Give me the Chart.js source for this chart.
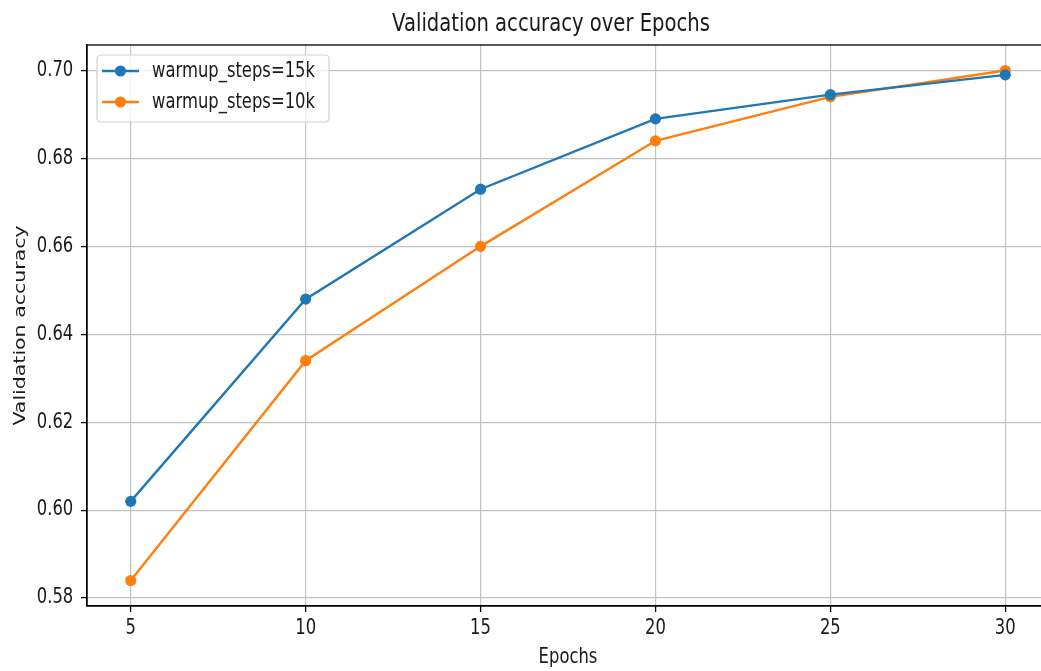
<!DOCTYPE html>
<html>
<head>
<meta charset="utf-8">
<script src="https://cdn.jsdelivr.net/npm/chart.js@4.4.1/dist/chart.umd.min.js"></script>
<style>
    html, body { margin: 0; padding: 0; background: #fff; overflow: hidden; }
    #wrap { position: relative; width: 1102px; height: 671px; }
</style>
</head>
<body>
<div id="wrap"><canvas id="chart"></canvas></div>
<script>
const epochs = [5, 10, 15, 20, 25, 30];
const acc15k = [0.602, 0.648, 0.673, 0.689, 0.6945, 0.699];
const acc10k = [0.584, 0.634, 0.660, 0.684, 0.694, 0.700];
const yTicks = [0.58, 0.60, 0.62, 0.64, 0.66, 0.68, 0.70];

const BLUE = "#1f77b4";
const ORANGE = "#ff7f0e";
const FONT = "'DejaVu Sans', sans-serif";
const TEXT = "#1a1a1a";
const SX = 0.8; // the figure is squeezed horizontally, text included

function points(ys) {
    return epochs.map((x, i) => ({ x, y: ys[i] }));
}

// squeeze all text along the screen x direction
const narrowText = {
    id: "narrowText",
    beforeInit(chart) {
        const ctx = chart.ctx;
        const fill = ctx.fillText.bind(ctx);
        ctx.fillText = (text, x, y, maxWidth) => {
            const rotated = Math.abs(ctx.getTransform().b) > 1e-6;
            ctx.save();
            ctx.translate(x, y);
            if (rotated) ctx.scale(1, SX);
            else ctx.scale(SX, 1);
            if (maxWidth === undefined) fill(text, 0, 0);
            else fill(text, 0, 0, rotated ? maxWidth : maxWidth / SX);
            ctx.restore();
        };
    },
};

// matplotlib-style box around the axes
const frame = {
    id: "frame",
    afterDatasetsDraw(chart) {
        const { ctx, chartArea: a } = chart;
        ctx.save();
        ctx.strokeStyle = "#000";
        ctx.lineWidth = 1.3;
        ctx.strokeRect(a.left, a.top, a.right - a.left, a.bottom - a.top);
        ctx.restore();
    },
};

// legend drawn inside the axes, upper left
const innerLegend = {
    id: "innerLegend",
    afterDraw(chart) {
        const { ctx, chartArea: a } = chart;
        const sets = chart.data.datasets;
        ctx.save();
        ctx.font = `20.5px ${FONT}`;
        const textW = SX * Math.max(...sets.map((d) => ctx.measureText(d.label).width));
        const x0 = a.left + 10, y0 = a.top + 10;
        const w = 55 + textW + 14, h = 67;
        ctx.beginPath();
        ctx.roundRect(x0, y0, w, h, 4);
        ctx.fillStyle = "rgba(255,255,255,0.8)";
        ctx.fill();
        ctx.strokeStyle = "#d0d0d0";
        ctx.lineWidth = 1.2;
        ctx.stroke();
        sets.forEach((d, i) => {
            const cy = y0 + 16 + i * 31;
            ctx.strokeStyle = d.borderColor;
            ctx.lineWidth = 2.4;
            ctx.beginPath();
            ctx.moveTo(x0 + 5, cy);
            ctx.lineTo(x0 + 42, cy);
            ctx.stroke();
            ctx.fillStyle = d.borderColor;
            ctx.beginPath();
            ctx.arc(x0 + 23.5, cy, 5.6, 0, Math.PI * 2);
            ctx.fill();
            ctx.fillStyle = TEXT;
            ctx.textBaseline = "middle";
            ctx.fillText(d.label, x0 + 55, cy + 1);
        });
        ctx.restore();
    },
};

new Chart(document.getElementById("chart"), {
    type: "line",
    data: {
        datasets: [
            {
                label: "warmup_steps=15k",
                data: points(acc15k),
                borderColor: BLUE,
                backgroundColor: BLUE,
                borderWidth: 2.4,
                pointRadius: 5.6,
                pointBorderWidth: 0,
                pointBackgroundColor: BLUE,
                tension: 0,
            },
            {
                label: "warmup_steps=10k",
                data: points(acc10k),
                borderColor: ORANGE,
                backgroundColor: ORANGE,
                borderWidth: 2.4,
                pointRadius: 5.6,
                pointBorderWidth: 0,
                pointBackgroundColor: ORANGE,
                tension: 0,
            },
        ],
    },
    options: {
        responsive: true,
        maintainAspectRatio: false,
        animation: false,
        layout: { padding: 0 },
        plugins: {
            legend: { display: false },
            tooltip: { enabled: false },
            title: {
                display: true,
                text: "Validation accuracy over Epochs",
                color: TEXT,
                font: { family: FONT, size: 24.5, weight: "normal" },
                padding: { top: 10.1, bottom: 5.5 },
            },
        },
        scales: {
            x: {
                type: "linear",
                min: 3.75,
                max: 31.25,
                afterFit: (s) => { s.height = 65; },
                ticks: {
                    stepSize: 5,
                    includeBounds: false,
                    color: TEXT,
                    padding: 4.4,
                    font: { family: FONT, size: 20.5 },
                },
                grid: { color: "#c4c4c4", lineWidth: 1.2, tickLength: 6, tickColor: "#000", tickWidth: 1.3 },
                border: { color: "#000", width: 1.3 },
                title: {
                    display: true,
                    text: "Epochs",
                    color: TEXT,
                    font: { family: FONT, size: 20.5 },
                    padding: { top: 0, bottom: 0.8 },
                },
            },
            y: {
                min: 0.5782,
                max: 0.7058,
                afterFit: (s) => { s.width = 87; },
                afterBuildTicks: (s) => { s.ticks = yTicks.map((v) => ({ value: v })); },
                ticks: {
                    includeBounds: false,
                    color: TEXT,
                    padding: 7.7,
                    font: { family: FONT, size: 20.5 },
                    callback: (v) => v.toFixed(2),
                },
                grid: { color: "#c4c4c4", lineWidth: 1.2, tickLength: 6, tickColor: "#000", tickWidth: 1.3 },
                border: { color: "#000", width: 1.3 },
                title: {
                    display: true,
                    text: "Validation accuracy",
                    color: TEXT,
                    font: { family: FONT, size: 20.5 },
                    padding: { top: 8.9, bottom: 0 },
                },
            },
            // spacer so the axes run past the window edge like the cropped figure
            spacer: {
                type: "linear",
                position: "right",
                display: true,
                afterFit: (s) => { s.width = 53; },
                ticks: { display: false },
                grid: { display: false },
                border: { display: false },
            },
        },
    },
    plugins: [narrowText, frame, innerLegend],
});
</script>
</body>
</html>
